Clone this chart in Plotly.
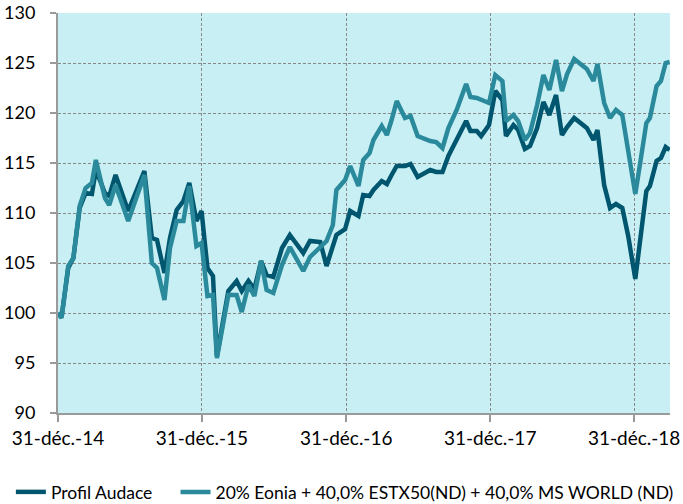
import plotly.graph_objects as go

dates = [
    "2014-12-31", "2015-01-09", "2015-01-26", "2015-02-08", "2015-02-24", "2015-03-11",
    "2015-03-27", "2015-04-06", "2015-04-29", "2015-05-10", "2015-05-26", "2015-06-27",
    "2015-08-07", "2015-08-26", "2015-09-08", "2015-09-27", "2015-10-11", "2015-10-28",
    "2015-11-14", "2015-11-29", "2015-12-17", "2015-12-30", "2016-01-14", "2016-01-28",
    "2016-02-07", "2016-03-07", "2016-03-28", "2016-04-10", "2016-04-27", "2016-05-12",
    "2016-05-29", "2016-06-12", "2016-06-29", "2016-07-21", "2016-08-10", "2016-09-13",
    "2016-09-30", "2016-10-26", "2016-11-11", "2016-11-27", "2016-12-06", "2016-12-28",
    "2017-01-10", "2017-01-31", "2017-02-12", "2017-02-28", "2017-03-10", "2017-03-31",
    "2017-04-13", "2017-04-25", "2017-05-08", "2017-05-29", "2017-06-12", "2017-06-30",
    "2017-08-01", "2017-08-16", "2017-09-01", "2017-09-16", "2017-10-07", "2017-10-31",
    "2017-11-11", "2017-11-27", "2017-12-08", "2017-12-28", "2018-01-13", "2018-01-31",
    "2018-02-09", "2018-02-28", "2018-03-12", "2018-03-29", "2018-04-11", "2018-04-29",
    "2018-05-15", "2018-05-30", "2018-06-16", "2018-07-01", "2018-07-14", "2018-08-01",
    "2018-09-02", "2018-09-19", "2018-09-29", "2018-10-16", "2018-10-31", "2018-11-15",
    "2018-12-01", "2018-12-16", "2019-01-03", "2019-01-15", "2019-01-31", "2019-02-09",
    "2019-02-26", "2019-03-09", "2019-03-21", "2019-03-31",
]

profil_audace = [
    100.0, 99.6, 104.5, 105.5, 110.5, 112.0,
    111.9, 114.3, 112.0, 111.7, 113.8, 110.2,
    114.2, 107.5, 107.3, 104.0, 107.5, 110.3,
    111.2, 113.0, 109.2, 110.2, 104.5, 103.7,
    95.7, 102.2, 103.2, 102.2, 103.2, 102.4,
    105.2, 103.8, 103.6, 106.5, 107.8, 106.0,
    107.2, 107.1, 104.7, 106.6, 107.8, 108.4,
    110.2, 109.7, 111.8, 111.7, 112.3, 113.2,
    112.9, 113.8, 114.7, 114.7, 114.9, 113.6,
    114.3, 114.1, 114.1, 115.7, 117.4, 119.2,
    118.2, 118.2, 117.7, 118.8, 122.2, 121.3,
    117.7, 118.8, 118.3, 116.4, 116.7, 118.5,
    121.1, 119.8, 121.8, 117.8, 118.6, 119.5,
    118.5, 117.3, 118.3, 112.8, 110.5, 110.9,
    110.5, 107.7, 103.4, 107.0, 112.2, 112.7,
    115.2, 115.5, 116.6, 116.3,
]

benchmark = [
    100.0, 99.5, 104.7, 105.5, 110.7, 112.5,
    113.0, 115.3, 111.5, 110.8, 112.8, 109.2,
    113.8, 105.0, 104.5, 101.3, 106.5, 109.2,
    109.2, 112.7, 106.7, 107.0, 101.7, 101.8,
    95.5, 101.8, 101.8, 100.1, 102.8, 101.7,
    105.2, 102.3, 102.0, 104.8, 106.6, 104.2,
    105.6, 106.6, 107.2, 108.8, 112.3, 113.3,
    114.7, 112.7, 115.3, 116.0, 117.3, 118.7,
    117.8, 119.3, 121.2, 119.5, 119.7, 117.7,
    117.2, 117.1, 116.5, 118.5, 120.3, 122.9,
    121.6, 121.5, 121.3, 121.0, 123.8, 123.2,
    119.2, 119.8, 119.2, 117.3, 118.0, 120.8,
    123.8, 122.3, 125.3, 122.2, 123.9, 125.4,
    124.4, 123.2, 124.9, 121.0, 119.5, 120.3,
    119.8, 116.5, 111.9, 114.9, 119.0, 119.5,
    122.7, 123.2, 125.0, 125.1,
]

tick_dates = ["2014-12-31", "2015-12-31", "2016-12-31", "2017-12-31", "2018-12-31"]
tick_labels = ["31-déc.-14", "31-déc.-15", "31-déc.-16", "31-déc.-17", "31-déc.-18"]
y_ticks = [90, 95, 100, 105, 110, 115, 120, 125, 130]

FONT = "Lato"

fig = go.Figure()
fig.add_trace(go.Scatter(
    x=dates, y=profil_audace, mode="lines", name="Profil Audace",
    line=dict(color="#00566E", width=4.5), legend="legend",
))
fig.add_trace(go.Scatter(
    x=dates, y=benchmark, mode="lines",
    name="20% Eonia + 40,0% ESTX50(ND) + 40,0% MS WORLD (ND)",
    line=dict(color="#2A8A9C", width=4.5), legend="legend2",
))

legend_common = dict(
    orientation="h", xanchor="left", y=-0.1975, yanchor="middle",
    font=dict(family=FONT, size=17.5, color="#000000"),
    itemwidth=30, bgcolor="rgba(0,0,0,0)",
)

fig.update_layout(
    width=683, height=504,
    margin=dict(l=58, r=13, t=13, b=91, autoexpand=False),
    paper_bgcolor="white",
    plot_bgcolor="#C8F0F4",
    font=dict(family=FONT, size=17, color="#000000"),
    showlegend=True,
    legend=dict(x=-0.077, **legend_common),
    legend2=dict(x=0.192, **legend_common),
    xaxis=dict(
        type="date",
        range=["2014-12-31", "2019-04-01"],
        tickvals=tick_dates, ticktext=tick_labels,
        showgrid=True, gridcolor="#888888", griddash="3px,2px", gridwidth=1,
        showline=True, linecolor="#9A9A9A", linewidth=2,
        ticks="outside", ticklen=7, tickcolor="#9A9A9A", tickwidth=2,
        tickfont=dict(family=FONT, size=19),
        zeroline=False, automargin=False,
    ),
    yaxis=dict(
        range=[90, 130],
        tickvals=y_ticks,
        showgrid=True, gridcolor="#888888", griddash="3px,2px", gridwidth=1,
        showline=True, linecolor="#9A9A9A", linewidth=2,
        ticks="outside", ticklen=6, tickcolor="#9A9A9A", tickwidth=2,
        tickfont=dict(family=FONT, size=18),
        ticklabelstandoff=11,
        zeroline=False, automargin=False,
    ),
)

fig.write_html(
    "out.html",
    config={"displayModeBar": False},
    post_script="document.body.style.margin='0px';",
)
